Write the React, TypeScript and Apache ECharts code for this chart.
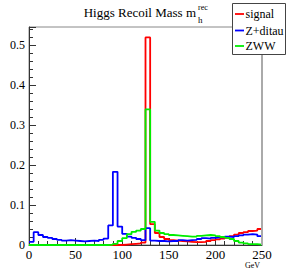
import React, { useEffect, useRef } from "react";
import * as echarts from "echarts";

// 50 bins of 5 GeV from 0 to 250
const binWidth = 5;
const xTicks = [0, 50, 100, 150, 200, 250];
const yTickLabels = ["0", "0.1", "0.2", "0.3", "0.4", "0.5"];

const signal = [
  0, 0, 0, 0, 0, 0, 0, 0, 0, 0,
  0, 0, 0, 0, 0, 0, 0, 0, 0, 0,
  0.001, 0.002, 0.003, 0.004, 0.006, 0.519, 0.052, 0.030, 0.020, 0.015,
  0.012, 0.011, 0.010, 0.009, 0.008, 0.007, 0.007, 0.008, 0.010, 0.012,
  0.014, 0.016, 0.018, 0.022, 0.026, 0.030, 0.032, 0.035, 0.036, 0.040,
];

const zditau = [
  0.008, 0.032, 0.025, 0.020, 0.018, 0.015, 0.013, 0.011, 0.012, 0.011,
  0.010, 0.009, 0.010, 0.011, 0.010, 0.013, 0.016, 0.049, 0.183, 0.046,
  0.028, 0.021, 0.018, 0.015, 0.012, 0.042, 0.011, 0.010, 0.010, 0.009,
  0.010, 0.010, 0.012, 0.011, 0.012, 0.013, 0.015, 0.017, 0.016, 0.018,
  0.019, 0.019, 0.021, 0.020, 0.022, 0.024, 0.026, 0.027, 0.026, 0.022,
];

const zww = [
  0, 0, 0, 0, 0, 0, 0, 0, 0, 0,
  0, 0, 0, 0, 0, 0, 0, 0.001, 0.003, 0.010,
  0.017, 0.027, 0.033, 0.036, 0.040, 0.339, 0.058, 0.036, 0.030, 0.027,
  0.025, 0.024, 0.023, 0.022, 0.021, 0.021, 0.023, 0.024, 0.025, 0.024,
  0.022, 0.020, 0.018, 0.015, 0.010, 0.006, 0.004, 0.002, 0.002, 0.001,
];

const seriesNames = ["signal", "Z+ditau", "ZWW"];
const seriesColors = ["#ff0000", "#0000ff", "#00ee00"];

function toSteps(vals: number[]) {
  const pts: number[][] = vals.map((v, i) => [i * binWidth, v]);
  pts.push([vals.length * binWidth, vals[vals.length - 1]]);
  return pts;
}

const SERIF = "serif";

function txt(text: string, x: number, y: number, size: number, align = "left", z = 20) {
  return {
    type: "text",
    x,
    y,
    z,
    style: {
      text,
      fontFamily: SERIF,
      fontSize: size,
      fill: "#000",
      textAlign: align,
      textVerticalAlign: "middle",
    },
  };
}

export default function App() {
  const ref = useRef<HTMLDivElement>(null);
  useEffect(() => {
    if (!ref.current) return;
    const chart = echarts.init(ref.current, undefined, { renderer: "svg" });
    const data = [signal, zditau, zww];
    const legendY = [14, 30.5, 46];
    const option: any = {
      animation: false,
      backgroundColor: "#ffffff",
      textStyle: { fontFamily: SERIF },
      grid: {
        left: 29,
        top: 27,
        right: 29,
        bottom: 28,
        show: true,
        borderColor: "#888888",
        borderWidth: 1,
        backgroundColor: "transparent",
      },
      xAxis: {
        type: "value",
        min: 0,
        max: 250,
        interval: 50,
        axisLine: { show: true, onZero: false, lineStyle: { color: "#333", width: 1 } },
        axisTick: { show: true, inside: true, length: 7, lineStyle: { color: "#333" } },
        minorTick: { show: true, splitNumber: 5, length: 4, lineStyle: { color: "#333" } },
        splitLine: { show: false },
        axisLabel: {
          show: true,
          margin: 3,
          color: "#000",
          fontFamily: SERIF,
          fontSize: 13,
          formatter: (v: number) => (xTicks.includes(v) ? String(v) : ""),
        },
      },
      yAxis: {
        type: "value",
        min: 0,
        max: 0.545,
        interval: 0.1,
        axisLine: { show: true, onZero: false, lineStyle: { color: "#333", width: 1 } },
        axisTick: { show: true, inside: true, length: 7, lineStyle: { color: "#333" } },
        minorTick: { show: true, splitNumber: 5, length: 4, lineStyle: { color: "#333" } },
        splitLine: { show: false },
        axisLabel: {
          show: true,
          margin: 4,
          color: "#000",
          fontFamily: SERIF,
          fontSize: 12,
          showMaxLabel: false,
          formatter: (v: number) => {
            const k = Math.round(v * 10);
            if (Math.abs(v * 10 - k) > 1e-6) return "";
            return yTickLabels[k] ?? "";
          },
        },
      },
      series: data.map((d, i) => ({
        name: seriesNames[i],
        type: "line",
        step: "end",
        symbol: "none",
        data: toSteps(d),
        lineStyle: { color: seriesColors[i], width: 1.8 },
        itemStyle: { color: seriesColors[i] },
        z: 2 + i,
      })),
      graphic: [
        {
          type: "line",
          shape: { x1: 262, y1: 27, x2: 262, y2: 245 },
          style: { stroke: "#aaaaaa", lineWidth: 2 },
          z: 10,
        },
        txt("Higgs Recoil Mass m", 196, 12.5, 13, "right"),
        txt("rec", 198, 7, 8),
        txt("h", 198, 20, 9),
        txt("GeV", 245, 265, 8),
        {
          type: "rect",
          shape: { x: 232.5, y: 3.5, width: 53, height: 51 },
          style: { fill: "#ffffff", stroke: "#444", lineWidth: 1 },
          z: 30,
        },
        ...seriesNames.flatMap((name, i) => [
          {
            type: "line",
            shape: { x1: 235, y1: legendY[i], x2: 244, y2: legendY[i] },
            style: { stroke: seriesColors[i], lineWidth: 1.8 },
            z: 31,
          },
          txt(name, 245.5, legendY[i], 12, "left", 31),
        ]),
      ],
    };
    chart.setOption(option);
    return () => chart.dispose();
  }, []);
  return (
    <div
      ref={ref}
      style={{ position: "fixed", left: 0, top: 0, width: 291, height: 273, background: "#fff" }}
    />
  );
}
